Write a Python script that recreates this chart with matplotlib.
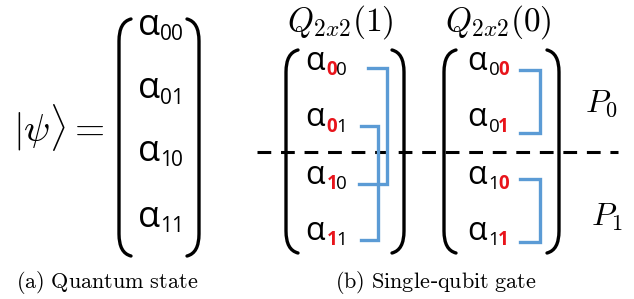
import matplotlib.pyplot as plt
from matplotlib.path import Path
from matplotlib.patches import PathPatch

plt.rcParams['mathtext.fontset'] = 'cm'

# amplitudes of the 2-qubit state
basis = ["00", "01", "10", "11"]
# gate labels and which character of the index is highlighted
gates = ["$Q_{2x2}(1)$", "$Q_{2x2}(0)$"]
highlight = [0, 1]
parts = ["$P_0$", "$P_1$"]
captions = [r"$\mathrm{(a)\ Quantum\ state}$", r"$\mathrm{(b)\ Single}$-$\mathrm{qubit\ gate}$"]

blue = "#5B9BD5"
red = "#E8141B"
sans = ['Open Sans', 'DejaVu Sans']

fig = plt.figure(figsize=(6.34, 2.99), dpi=100)
ax = fig.add_axes([0, 0, 1, 1])
ax.set_xlim(0, 634)
ax.set_ylim(299, 0)
ax.axis('off')


def paren(x_edge, x_tip, y0, y1, bend=22):
    verts = [(x_tip, y0), (x_edge, y0 + 3), (x_edge, y0 + bend),
             (x_edge, y1 - bend), (x_edge, y1 - 3), (x_tip, y1)]
    codes = [Path.MOVETO, Path.CURVE3, Path.CURVE3,
             Path.LINETO, Path.CURVE3, Path.CURVE3]
    ax.add_patch(PathPatch(Path(verts, codes), fill=False, lw=2.4,
                           ec='black', capstyle='round'))


def matrix(x0, x1, y0, y1):
    paren(x0, x0 + 12, y0, y1)
    paren(x1, x1 - 12, y0, y1)


def amp(x, y, idx, hl=None, big=False):
    a_size, d_size = (26, 15) if big else (23, 13.5)
    dx, step, dy = (22, 11, 9) if big else (21.5, 9.5, 9)
    ax.text(x, y, "α", fontsize=a_size, family=sans, ha='left', va='center')
    for k, ch in enumerate(idx):
        is_hl = hl == k
        ax.text(x + dx + step * k, y + dy, ch, fontsize=d_size, family=sans,
                ha='left', va='center',
                color=red if is_hl else 'black',
                fontweight='bold' if is_hl else 'normal')


def bracket(x_in, x_out, ya, yb, x_in2=None):
    if x_in2 is None:
        x_in2 = x_in
    ax.plot([x_in, x_out, x_out, x_in2], [ya, ya, yb, yb], color=blue,
            lw=2.4, solid_joinstyle='miter')


# (a) quantum state
ax.text(59, 128, r"$|\psi\rangle=$", fontsize=28, ha='center', va='center')
matrix(119, 199, 19, 256)
left_rows = [26, 89, 152, 218]
for y, b in zip(left_rows, basis):
    amp(138, y, b, big=True)

# (b) single-qubit gate
ax.plot([257, 618], [152, 152], color='black', lw=2.2, ls=(0, (4.5, 3.2)))

mid_rows = [61, 118, 175, 231]
centers = [340, 498]
mat_edges = [(286, 404), (444, 559)]
amp_x = [305, 467]
for g, label in enumerate(gates):
    ax.text(centers[g], 22, label, fontsize=24, ha='center', va='center')
    matrix(mat_edges[g][0], mat_edges[g][1], 50, 253)
    for y, b in zip(mid_rows, basis):
        amp(amp_x[g], y, b, highlight[g])

# blue brackets joining amplitude pairs
bracket(368, 387, 68, 184, x_in2=359)
bracket(361, 378, 126, 240)
bracket(520, 540, 70, 133)
bracket(520, 540, 179, 242)

ax.text(601, 104, parts[0], fontsize=23, ha='center', va='center')
ax.text(607, 217, parts[1], fontsize=23, ha='center', va='center')

ax.text(107, 283, captions[0], fontsize=16, ha='center', va='center')
ax.text(436, 283, captions[1], fontsize=16, ha='center', va='center')

fig.savefig("out.png", dpi=100)
